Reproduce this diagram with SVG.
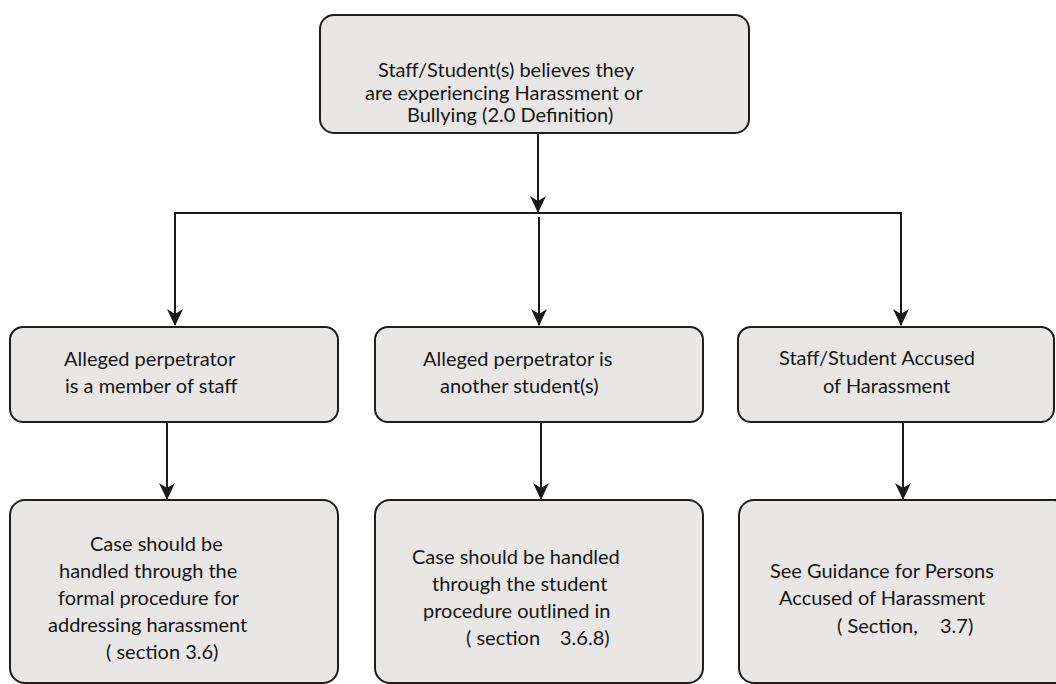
<svg xmlns="http://www.w3.org/2000/svg" width="1056" height="684" viewBox="0 0 1056 684">
<style>
.box{fill:#e8e7e6;stroke:#1e1e1e;stroke-width:2}
.t{font-family:Lato,"Open Sans","Liberation Sans",sans-serif;font-size:20px;fill:#151515}
.c{fill:none;stroke:#1a1a1a;stroke-width:2}
</style>
<defs>
<marker id="ah" markerUnits="userSpaceOnUse" viewBox="0 0 17 16" markerWidth="17" markerHeight="16" refX="16" refY="8" orient="auto">
<path d="M0,0 L17,8 L0,16 L5,8 Z" fill="#1a1a1a"/>
</marker>
</defs>
<rect width="1056" height="684" fill="#ffffff"/>
<g id="connectors">
<line class="c" x1="538" y1="133" x2="538" y2="212" marker-end="url(#ah)"/>
<polyline class="c" points="175,325 175,213 901,213 901,325" marker-end="url(#ah)" stroke-width="2.5"/>
<line class="c" x1="175" y1="214" x2="175" y2="325" marker-end="url(#ah)"/>
<line class="c" x1="539" y1="217" x2="539" y2="325" marker-end="url(#ah)"/>
<line class="c" x1="167" y1="422" x2="167" y2="499" marker-end="url(#ah)"/>
<line class="c" x1="541" y1="422" x2="541" y2="499" marker-end="url(#ah)"/>
<line class="c" x1="903" y1="422" x2="903" y2="499" marker-end="url(#ah)"/>
</g>
<g id="n-top">
<rect class="box" x="320" y="15" width="429" height="118" rx="14"/>
<text class="t" x="378" y="77">Staff/Student(s) believes they</text>
<text class="t" x="365" y="100">are experiencing Harassment or</text>
<text class="t" x="407" y="122">Bullying (2.0 Definition)</text>
</g>
<g id="n-staff">
<rect class="box" x="10" y="327" width="328" height="95" rx="13"/>
<text class="t" x="64" y="366">Alleged perpetrator</text>
<text class="t" x="65" y="393">is a member of staff</text>
</g>
<g id="n-student">
<rect class="box" x="375" y="327" width="328" height="95" rx="13"/>
<text class="t" x="423" y="366">Alleged perpetrator is</text>
<text class="t" x="440" y="393">another student(s)</text>
</g>
<g id="n-accused">
<rect class="box" x="738" y="327" width="316" height="95" rx="13"/>
<text class="t" x="779" y="365">Staff/Student Accused</text>
<text class="t" x="823" y="393">of Harassment</text>
</g>
<g id="n-formal">
<rect class="box" x="10" y="500" width="328" height="183" rx="15"/>
<text class="t" x="90" y="551">Case should be</text>
<text class="t" x="59" y="578">handled through the</text>
<text class="t" x="58" y="605">formal procedure for</text>
<text class="t" x="48" y="632">addressing harassment</text>
<text class="t" x="106" y="659">( section 3.6)</text>
</g>
<g id="n-studentproc">
<rect class="box" x="375" y="500" width="328" height="183" rx="15"/>
<text class="t" x="412" y="564">Case should be handled</text>
<text class="t" x="432" y="591">through the student</text>
<text class="t" x="423" y="618">procedure outlined in</text>
<text class="t" x="466" y="645">( section</text>
<text class="t" x="560" y="645">3.6.8)</text>
</g>
<g id="n-guidance">
<rect class="box" x="739" y="500" width="330" height="183" rx="15"/>
<text class="t" x="770" y="578">See Guidance for Persons</text>
<text class="t" x="779" y="605">Accused of Harassment</text>
<text class="t" x="837" y="633">( Section,</text>
<text class="t" x="940" y="633">3.7)</text>
</g>
</svg>
